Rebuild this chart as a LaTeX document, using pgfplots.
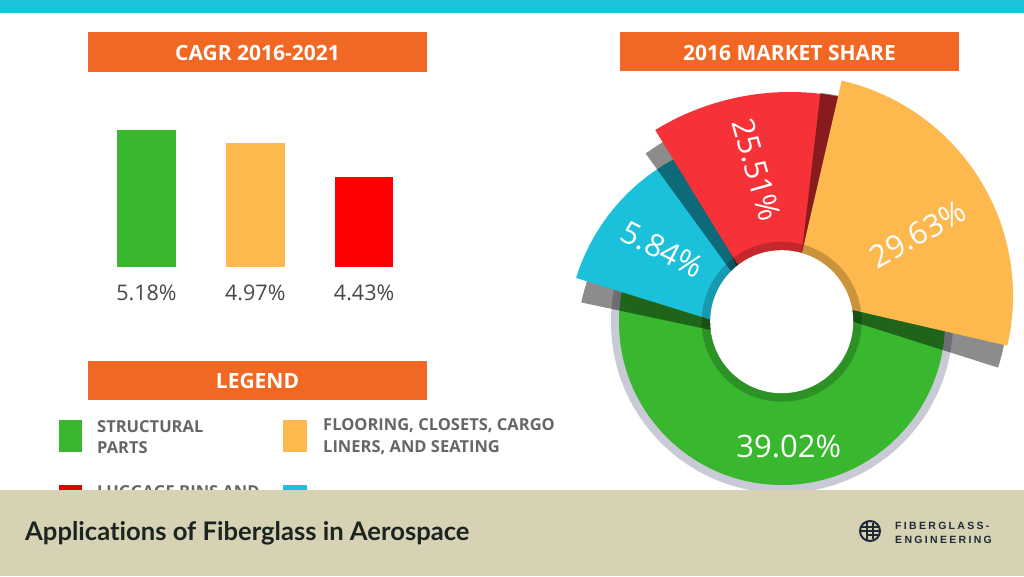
\documentclass[border=0pt]{standalone}
\usepackage{pgfplots}
\pgfplotsset{compat=1.18}
\usepackage{fontspec}
\setmainfont{Open Sans}
\newfontfamily\lato[Ligatures=NoCommon]{Lato}
\newfontfamily\logofont[LetterSpace=22]{Liberation Sans}

\definecolor{topcyan}{RGB}{30,194,218}
\definecolor{hdr}{RGB}{241,104,36}
\definecolor{cgreen}{RGB}{57,183,47}
\definecolor{cyellow}{RGB}{253,185,77}
\definecolor{cred}{RGB}{246,50,56}
\definecolor{barred}{RGB}{255,0,0}
\definecolor{ccyan}{RGB}{27,193,219}
\definecolor{band}{RGB}{214,210,179}
\definecolor{ringgrey}{RGB}{200,202,213}
\definecolor{txtgrey}{RGB}{102,102,102}
\definecolor{numgrey}{RGB}{72,72,72}
\definecolor{titletxt}{RGB}{28,36,32}
\definecolor{logotxt}{RGB}{30,42,56}

% slice: options, apex x, apex y, start angle, end angle, radius (all in px)
\newcommand\pieslice[6]{%
  \fill[#1] (axis cs:#2,#3) -- ++(#4:#6pt)
    arc[start angle=#4, end angle=#5, radius=#6pt] -- cycle;}
\newcommand\fs[1]{\fontsize{#1}{#1}\selectfont}

\begin{document}
\begin{tikzpicture}[x=1pt, y=-1pt]
\path[use as bounding box] (0,0) rectangle (1024,576);
\fill[white] (0,0) rectangle (1024,576);
\fill[topcyan] (0,0) rectangle (1024,13);

% headers
\fill[hdr] (88,32) rectangle (427,72);
\node[text=white, font=\fs{21}\bfseries] at (257.5,53) {CAGR 2016-2021};
\fill[hdr] (620,32) rectangle (959,71);
\node[text=white, font=\fs{21}\bfseries] at (789.5,53) {2016 MARKET SHARE};
\fill[hdr] (88,361) rectangle (427,400);
\node[text=white, font=\fs{21}\bfseries] at (257.5,381) {LEGEND};

% CAGR bars
\begin{axis}[
    at={(92.1pt,-267.3pt)}, anchor=south west,
    x=108.8pt, y=63pt,
    xmin=-0.5, xmax=2.5, ymin=3, ymax=5.5,
    ybar, bar width=58.4pt,
    hide y axis,
    axis x line*=bottom,
    x axis line style={draw=none},
    major tick length=0pt,
    xtick={0,1,2},
    xticklabels={5.18\%,4.97\%,4.43\%},
    xticklabel style={font=\fs{21.5}, text=numgrey, inner sep=0pt, yshift=-17pt},
    ]
    \addplot[fill=cgreen, draw=none, bar shift=0pt] coordinates {(0,5.18)};
    \addplot[fill=cyellow, draw=none, bar shift=0pt] coordinates {(1,4.97)};
    \addplot[fill=barred, draw=none, bar shift=0pt] coordinates {(2,4.43)};
\end{axis}

% market share donut
\begin{axis}[
    at={(0pt,-576pt)}, anchor=south west,
    x=1pt, y=1pt,
    xmin=0, xmax=1024, ymin=0, ymax=576,
    hide axis, clip=false,
    ]
    \fill[ringgrey] (axis cs:782,254) circle[radius=171pt];
    \fill[cgreen] (axis cs:782,254) circle[radius=163pt];
    \pieslice{black, opacity=0.45}{772}{233}{110}{168}{195}
    \pieslice{ccyan}{770}{238}{115}{162.8}{203}
    \pieslice{black, opacity=0.45}{792}{221}{78}{126}{249}
    \pieslice{cred}{790}{226}{78}{121.5}{258}
    \pieslice{black, opacity=0.45}{796}{272.5}{-17.6}{83.4}{212}
    \pieslice{cyellow}{792}{280}{-13}{77}{221}
    \fill[black, opacity=0.2] (axis cs:781.7,254.3) circle[radius=80pt];
    \fill[white] (axis cs:781.7,254.3) circle[radius=71.5pt];
    \node[text=white, font=\fs{31}] at (axis cs:788.7,129.3) {39.02\%};
    \node[text=white, font=\fs{31}, rotate=29] at (axis cs:918,342) {29.63\%};
    \node[text=white, font=\fs{31}, rotate=-74] at (axis cs:756.7,406) {25.51\%};
    \node[text=white, font=\fs{31}, rotate=-27] at (axis cs:662.7,326.7) {5.84\%};
\end{axis}

% legend
\fill[cgreen] (59,420) rectangle (82.3,451.7);
\node[anchor=base west, inner sep=0pt, text=txtgrey, font=\fs{16.5}\bfseries] at (97,432.3) {STRUCTURAL};
\node[anchor=base west, inner sep=0pt, text=txtgrey, font=\fs{16.5}\bfseries] at (97,453.3) {PARTS};
\fill[cyellow] (282.7,420) rectangle (306.7,451.7);
\node[anchor=base west, inner sep=0pt, text=txtgrey, font=\fs{16.5}\bfseries] at (323,430.7) {FLOORING, CLOSETS, CARGO};
\node[anchor=base west, inner sep=0pt, text=txtgrey, font=\fs{16.5}\bfseries] at (323,452.7) {LINERS, AND SEATING};
\fill[barred!90!black] (59,485) rectangle (82.3,517);
\node[anchor=base west, inner sep=0pt, text=txtgrey, font=\fs{16.5}\bfseries] at (97,497) {LUGGAGE BINS AND};
\fill[ccyan] (282.7,485) rectangle (306.7,517);

% bottom band
\fill[band] (0,490) rectangle (1024,576);
\node[anchor=base west, inner sep=0pt, text=titletxt, font=\fs{25.6}\lato\bfseries] at (25,540) {Applications of Fiberglass in Aerospace};
\draw[logotxt, line width=2pt] (870,531) circle[radius=10];
\draw[logotxt, line width=1.4pt] (867,522) -- (867,540) (873,523) -- (873,539)
  (861,527) -- (879,527) (861,531) -- (879,531) (867,535) -- (879,535);
\node[anchor=base west, inner sep=0pt, text=logotxt, font=\fs{10.5}\logofont\bfseries] at (895,529.8) {FIBERGLASS-};
\node[anchor=base west, inner sep=0pt, text=logotxt, font=\fs{10.5}\logofont\bfseries] at (895,543) {ENGINEERING};
\end{tikzpicture}
\end{document}
